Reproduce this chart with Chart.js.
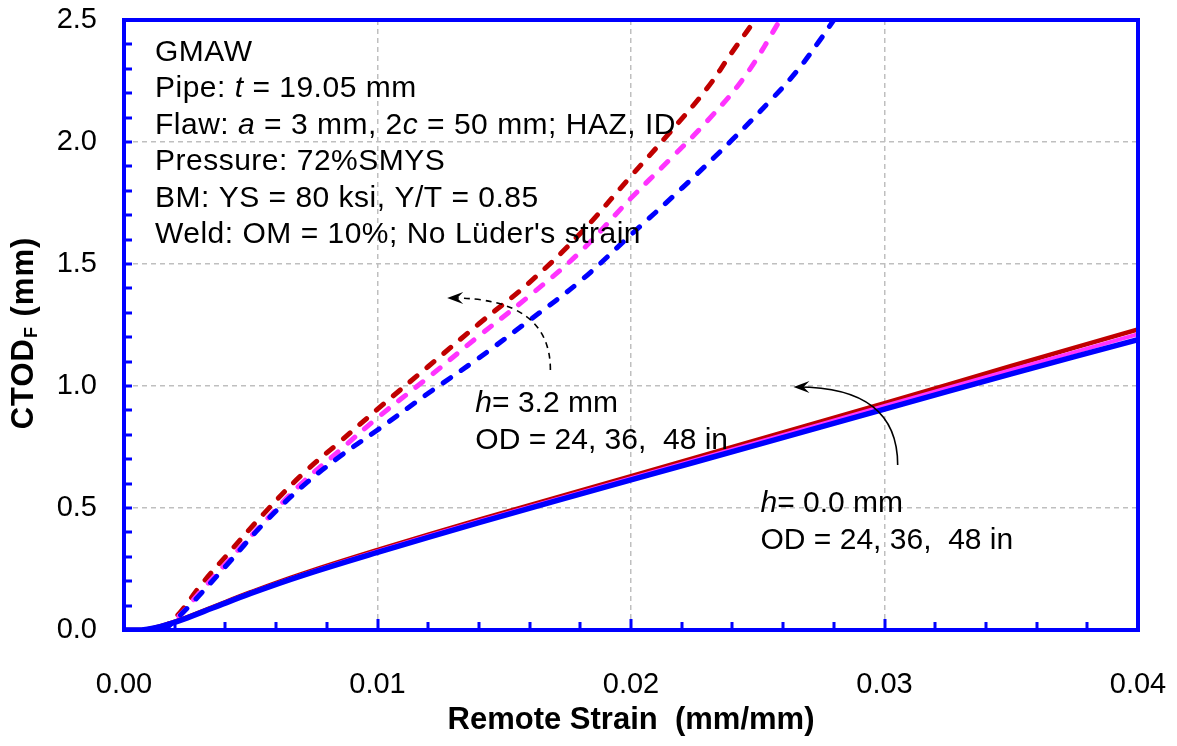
<!DOCTYPE html>
<html lang="en">

<head>
    <title>CTOD vs Remote Strain</title>
    <meta charset="utf-8">
    <script src="https://cdn.jsdelivr.net/npm/chart.js"></script>
    <style>
        body {
            margin: 0;
            background-color: #ffffff;
        }

        .chart-box {
            position: relative;
            width: 1177px;
            height: 746px;
        }
    </style>
</head>

<body>
    <div class="chart-box">
        <canvas id="ctodChart"></canvas>
    </div>

    <script>
        // axis ticks
        const xTickValues = [0, 0.01, 0.02, 0.03, 0.04];
        const yTickValues = [0, 0.5, 1.0, 1.5, 2.0, 2.5];

        // h = 3.2 mm (dashed), OD = 24 / 36 / 48 in
        const dashX24 = [0.0015, 0.0022, 0.0030, 0.0040, 0.0055, 0.0070, 0.0085, 0.0100, 0.0120, 0.0140, 0.0160, 0.0180, 0.0200, 0.0215, 0.0230, 0.0240, 0.0251];
        const dashY24 = [0.00, 0.07, 0.18, 0.30, 0.475, 0.635, 0.77, 0.905, 1.08, 1.255, 1.425, 1.625, 1.86, 2.035, 2.22, 2.37, 2.53];
        const dashX36 = [0.0015, 0.0022, 0.0030, 0.0040, 0.0055, 0.0070, 0.0085, 0.0100, 0.0120, 0.0140, 0.0160, 0.0180, 0.0200, 0.0215, 0.0230, 0.0245, 0.0260];
        const dashY36 = [0.00, 0.06, 0.155, 0.27, 0.44, 0.60, 0.735, 0.87, 1.035, 1.205, 1.37, 1.55, 1.77, 1.925, 2.085, 2.27, 2.52];
        const dashX48 = [0.0016, 0.0025, 0.0040, 0.0055, 0.0070, 0.0085, 0.0100, 0.0120, 0.0140, 0.0160, 0.0180, 0.0200, 0.0220, 0.0240, 0.0255, 0.0265, 0.0274, 0.0282];
        const dashY48 = [0.00, 0.09, 0.26, 0.435, 0.585, 0.71, 0.82, 0.97, 1.115, 1.27, 1.43, 1.62, 1.81, 2.01, 2.17, 2.285, 2.41, 2.53];

        // h = 0.0 mm (solid)
        const solidX = [0, 0.0007, 0.0012, 0.0018, 0.0025, 0.0035, 0.0050, 0.0070, 0.0100, 0.0140, 0.0200, 0.0250, 0.0300, 0.0350, 0.0400];
        const solidY24 = [0, 0, 0.009, 0.027, 0.053, 0.094, 0.155, 0.229, 0.328, 0.452, 0.630, 0.780, 0.930, 1.082, 1.232];
        const solidY36 = [0, 0, 0.008, 0.026, 0.051, 0.092, 0.152, 0.225, 0.323, 0.446, 0.622, 0.770, 0.918, 1.066, 1.212];
        const solidY48 = [0, 0, 0.008, 0.025, 0.050, 0.090, 0.150, 0.222, 0.318, 0.440, 0.615, 0.760, 0.905, 1.050, 1.190];

        const RED = '#C00000';
        const MAGENTA = '#FF33FF';
        const BLUE = '#0000FF';
        const FONT = 'Arial, "Liberation Sans", sans-serif';

        function pts(xs, ys) {
            return xs.map((x, i) => ({ x: x, y: ys[i] }));
        }

        function dashSet(xs, ys, color, order) {
            return {
                data: pts(xs, ys),
                borderColor: color,
                borderWidth: 5,
                borderDash: [9, 13],
                borderCapStyle: 'round',
                showLine: true,
                pointRadius: 0,
                tension: 0.4,
                order: order
            };
        }

        function solidSet(ys, color, width, order) {
            return {
                data: pts(solidX, ys),
                borderColor: color,
                borderWidth: width,
                showLine: true,
                pointRadius: 0,
                tension: 0.4,
                order: order
            };
        }

        // text pieces: [text, italic?]
        const infoLines = [
            [['GMAW', false]],
            [['Pipe: ', false], ['t', true], [' = 19.05 mm', false]],
            [['Flaw: ', false], ['a', true], [' = 3 mm, 2', false], ['c', true], [' = 50 mm; HAZ, ID', false]],
            [['Pressure: 72%SMYS', false]],
            [['BM: YS = 80 ksi, Y/T = 0.85', false]],
            [["Weld: OM = 10%; No Lüder's strain", false]]
        ];
        const label32 = { x: 0.01386, y: 0.893, lines: [[['h', true], ['= 3.2 mm', false]], [['OD = 24, 36,  48 in', false]]] };
        const label00 = { x: 0.02511, y: 0.484, lines: [[['h', true], ['= 0.0 mm', false]], [['OD = 24, 36,  48 in', false]]] };
        // curved arrows: start, control, tip (data units)
        const arrow32 = { from: [0.01682, 1.066], ctrl: [0.01682, 1.361], to: [0.01275, 1.361], dashed: true };
        const arrow00 = { from: [0.03052, 0.676], ctrl: [0.03052, 0.996], to: [0.02641, 0.996], dashed: false };

        function drawPieces(ctx, pieces, x, y, size, spacing) {
            let cx = x;
            ctx.letterSpacing = spacing + 'px';
            pieces.forEach(p => {
                ctx.font = (p[1] ? 'italic ' : '') + size + 'px ' + FONT;
                ctx.fillText(p[0], cx, y);
                cx += ctx.measureText(p[0]).width;
            });
            ctx.letterSpacing = '0px';
        }

        function drawArrow(ctx, xs, ys, a) {
            const p0 = [xs.getPixelForValue(a.from[0]), ys.getPixelForValue(a.from[1])];
            const pc = [xs.getPixelForValue(a.ctrl[0]), ys.getPixelForValue(a.ctrl[1])];
            const p1 = [xs.getPixelForValue(a.to[0]), ys.getPixelForValue(a.to[1])];
            ctx.save();
            ctx.strokeStyle = '#000';
            ctx.lineWidth = 1.6;
            ctx.setLineDash(a.dashed ? [6, 5] : []);
            ctx.beginPath();
            ctx.moveTo(p0[0], p0[1]);
            ctx.quadraticCurveTo(pc[0], pc[1], p1[0] + 4, p1[1]);
            ctx.stroke();
            ctx.setLineDash([]);
            ctx.fillStyle = '#000';
            ctx.beginPath();
            ctx.moveTo(p1[0], p1[1]);
            ctx.lineTo(p1[0] + 16, p1[1] - 6);
            ctx.lineTo(p1[0] + 10, p1[1]);
            ctx.lineTo(p1[0] + 16, p1[1] + 6);
            ctx.closePath();
            ctx.fill();
            ctx.restore();
        }

        const framePlugin = {
            id: 'frameAndNotes',
            afterDraw(chart) {
                const ctx = chart.ctx;
                const a = chart.chartArea;
                const xs = chart.scales.x;
                const ys = chart.scales.y;
                ctx.save();

                // inward minor ticks
                ctx.strokeStyle = BLUE;
                ctx.lineWidth = 3;
                ctx.beginPath();
                for (let i = 1; i < 20; i++) {
                    const px = Math.round(xs.getPixelForValue(i * 0.002));
                    const len = (i % 5 === 0) ? 11 : 8;
                    ctx.moveTo(px, a.bottom);
                    ctx.lineTo(px, a.bottom - len);
                }
                for (let i = 1; i < 25; i++) {
                    const py = Math.round(ys.getPixelForValue(i * 0.1));
                    ctx.moveTo(a.left, py);
                    ctx.lineTo(a.left + 8, py);
                }
                ctx.stroke();

                // frame
                ctx.lineWidth = 4;
                ctx.strokeRect(a.left, a.top, a.right - a.left, a.bottom - a.top);

                // info block
                ctx.fillStyle = '#000';
                ctx.textAlign = 'left';
                ctx.textBaseline = 'alphabetic';
                infoLines.forEach((line, i) => {
                    drawPieces(ctx, line, a.left + 31, a.top + 41 + i * 36.4, 30, 0.5);
                });

                // curve labels
                [label32, label00].forEach(lb => {
                    const lx = xs.getPixelForValue(lb.x);
                    const ly = ys.getPixelForValue(lb.y);
                    lb.lines.forEach((line, i) => drawPieces(ctx, line, lx, ly + i * 37, 30, 0));
                });
                drawArrow(ctx, xs, ys, arrow32);
                drawArrow(ctx, xs, ys, arrow00);

                // axis titles
                ctx.font = 'bold 31px ' + FONT;
                ctx.textAlign = 'center';
                ctx.fillText('Remote Strain  (mm/mm)', (a.left + a.right) / 2, 729);

                ctx.translate(33, 333);
                ctx.rotate(-Math.PI / 2);
                ctx.textAlign = 'left';
                ctx.letterSpacing = '1px';
                const big = 'bold 31px ' + FONT;
                const small = 'bold 18px ' + FONT;
                ctx.font = big;
                const w1 = ctx.measureText('CTOD').width;
                const w3 = ctx.measureText(' (mm)').width;
                ctx.font = small;
                const w2 = ctx.measureText('F').width;
                let sx = -(w1 + w2 + w3) / 2;
                ctx.font = big;
                ctx.fillText('CTOD', sx, 0);
                sx += w1;
                ctx.font = small;
                ctx.fillText('F', sx, 4);
                sx += w2;
                ctx.font = big;
                ctx.fillText(' (mm)', sx, 0);

                ctx.restore();
            }
        };

        const gridColor = (ctx, last) => {
            const v = ctx.tick ? ctx.tick.value : 0;
            return (v <= 0 || v >= last - 1e-9) ? 'rgba(0,0,0,0)' : '#BFBFBF';
        };

        new Chart(document.getElementById('ctodChart'), {
            type: 'scatter',
            data: {
                datasets: [
                    dashSet(dashX24, dashY24, RED, 6),
                    dashSet(dashX36, dashY36, MAGENTA, 5),
                    dashSet(dashX48, dashY48, BLUE, 4),
                    solidSet(solidY24, RED, 4.5, 3),
                    solidSet(solidY36, MAGENTA, 4, 2),
                    solidSet(solidY48, BLUE, 5.5, 1)
                ]
            },
            options: {
                responsive: true,
                maintainAspectRatio: false,
                animation: false,
                layout: { padding: { top: 20, right: 39, left: 0, bottom: 0 } },
                plugins: {
                    legend: { display: false },
                    tooltip: { enabled: false }
                },
                scales: {
                    x: {
                        type: 'linear',
                        min: 0,
                        max: 0.04,
                        afterBuildTicks: s => { s.ticks = xTickValues.map(v => ({ value: v })); },
                        afterFit: s => {
                            s.height = 116;
                            s.paddingLeft = 0;
                            s.paddingRight = 0;
                        },
                        grid: {
                            drawTicks: false,
                            lineWidth: 1.5,
                            color: c => gridColor(c, 0.04)
                        },
                        border: { display: false, dash: [5, 4] },
                        ticks: {
                            padding: 38,
                            color: '#000',
                            font: { family: FONT, size: 29 },
                            callback: v => Number(v).toFixed(2)
                        }
                    },
                    y: {
                        type: 'linear',
                        min: 0,
                        max: 2.5,
                        afterBuildTicks: s => { s.ticks = yTickValues.map(v => ({ value: v })); },
                        afterFit: s => {
                            s.width = 124;
                            s.paddingTop = 0;
                            s.paddingBottom = 0;
                        },
                        grid: {
                            drawTicks: false,
                            lineWidth: 1.5,
                            color: c => gridColor(c, 2.5)
                        },
                        border: { display: false, dash: [5, 4] },
                        ticks: {
                            padding: 27,
                            color: '#000',
                            font: { family: FONT, size: 29 },
                            callback: v => Number(v).toFixed(1)
                        }
                    }
                }
            },
            plugins: [framePlugin]
        });
    </script>
</body>

</html>
